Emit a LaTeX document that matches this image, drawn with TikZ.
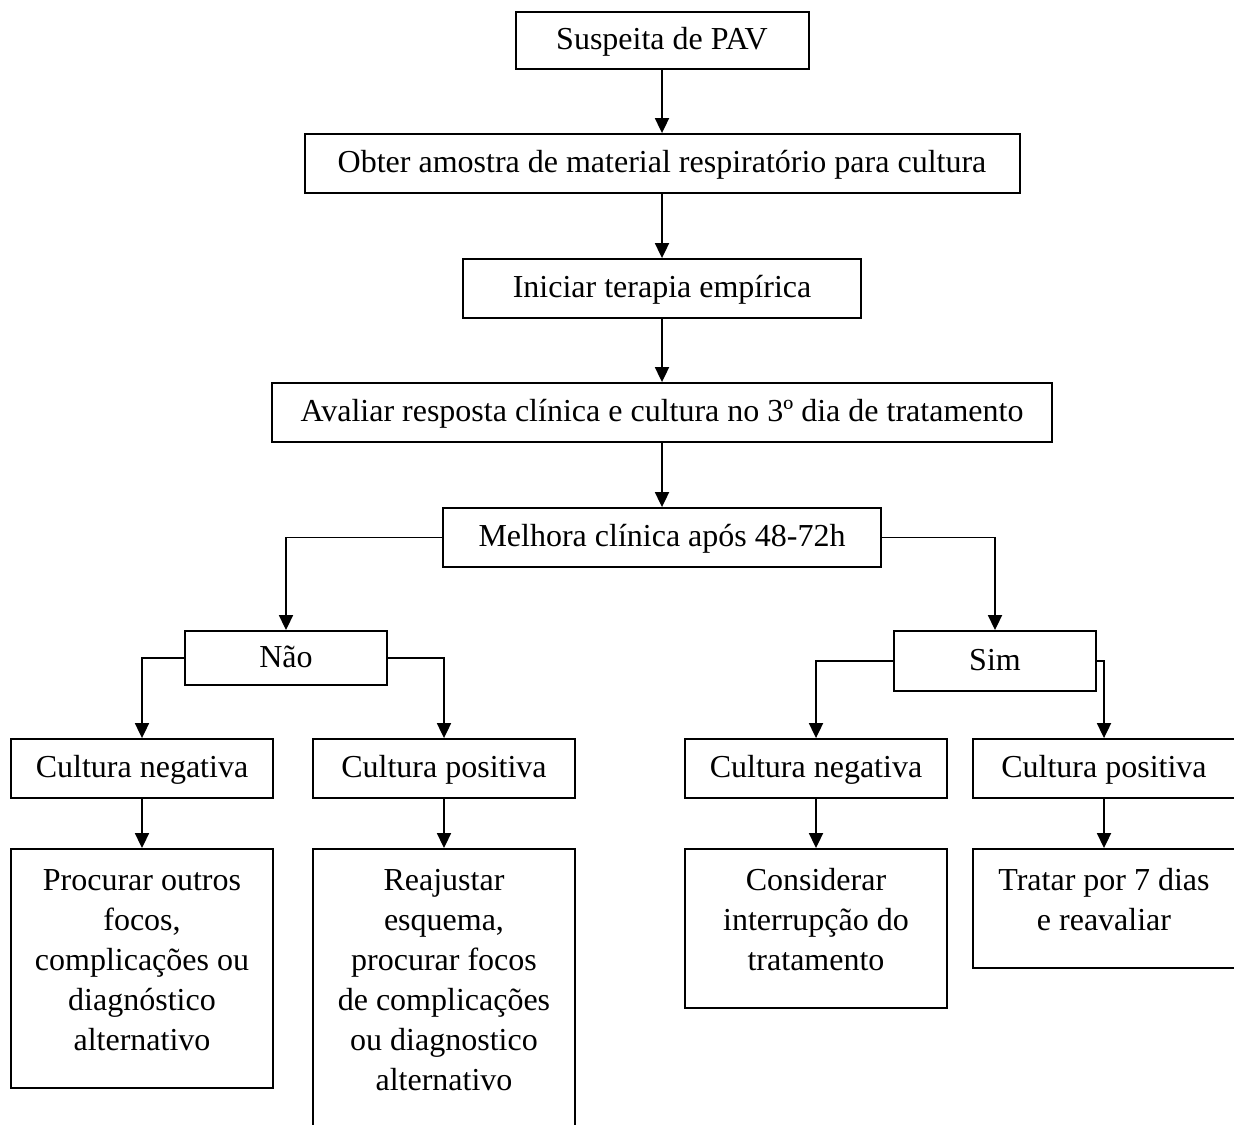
\documentclass[tikz,border=0pt]{standalone}
\usepackage{fontspec}
\setmainfont{Liberation Serif}
\usetikzlibrary{arrows.meta}

% top aligned text for the tall boxes
\newcommand{\topbox}[2]{\parbox[t][#1][t]{98.25pt}{\centering\strut #2}}

\begin{document}
\begin{tikzpicture}[x=0.375pt, y=-0.375pt,
		box/.style={draw, line width=0.75pt, inner sep=0pt, minimum width=#1*0.375pt,
			minimum height=22.1pt, text height=9pt, text depth=2.2pt,
			font=\fontsize{12}{15}\selectfont},
		tallbox/.style={draw, line width=0.75pt, anchor=north, inner xsep=0pt, inner ysep=5pt,
			minimum width=98.25pt, font=\fontsize{12}{15}\selectfont},
		seta/.style={line width=0.5pt, -{Triangle[length=5.6pt, width=5.3pt]}}]
		\useasboundingbox (0,0) rectangle (1234,1124);
		\clip (0,0) rectangle (1234,1124); % the picture is cut at the edges

		% main column
		\node[box=293, minimum height=21.4pt] (suspeita) at (662,40.5) {Suspeita de PAV};
		\node[box=715] (amostra)  at (662,163.5) {Obter amostra de material respiratório para cultura};
		\node[box=398] (terapia)  at (662,288.5) {Iniciar terapia empírica};
		\node[box=780] (avaliar)  at (662,412.5) {Avaliar resposta clínica e cultura no 3º dia de tratamento};
		\node[box=438] (melhora)  at (662,537.5) {Melhora clínica após 48-72h};

		% answers
		\node[box=202, minimum height=20.25pt] (nao) at (286,658) {Não};
		\node[box=202, minimum height=22.5pt] (sim) at (995,661) {Sim};

		% cultures
		\node[box=262] (negNao) at (142,768.5) {Cultura negativa};
		\node[box=262] (posNao) at (444,768.5) {Cultura positiva};
		\node[box=262] (negSim) at (816,768.5) {Cultura negativa};
		\node[box=262] (posSim) at (1104,768.5) {Cultura positiva};

		% conducts
		\node[tallbox] (focos) at (142,848)
			{\topbox{79.6pt}{Procurar outros\\focos,\\complicações ou\\diagnóstico\\alternativo}};
		\node[tallbox] (reajustar) at (444,848)
			{\topbox{102.5pt}{Reajustar\\esquema,\\procurar focos\\de complicações\\ou diagnostico\\alternativo}};
		\node[tallbox] (interromper) at (816,848)
			{\topbox{49.6pt}{Considerar\\interrupção do\\tratamento}};
		\node[tallbox] (tratar) at (1104,848)
			{\topbox{34.6pt}{Tratar por 7 dias\\e reavaliar}};

		% connectors
		\draw[seta] (suspeita.south) -- (amostra.north);
		\draw[seta] (amostra.south) -- (terapia.north);
		\draw[seta] (terapia.south) -- (avaliar.north);
		\draw[seta] (avaliar.south) -- (melhora.north);
		\draw[seta] (melhora.west) -| (nao.north);
		\draw[seta] (melhora.east) -| (sim.north);
		\draw[seta] (nao.west) -| (negNao.north);
		\draw[seta] (nao.east) -| (posNao.north);
		\draw[seta] (sim.west) -| (negSim.north);
		\draw[seta] (sim.east) -| (posSim.north);
		\draw[seta] (negNao.south) -- (focos.north);
		\draw[seta] (posNao.south) -- (reajustar.north);
		\draw[seta] (negSim.south) -- (interromper.north);
		\draw[seta] (posSim.south) -- (tratar.north);
\end{tikzpicture}
\end{document}
